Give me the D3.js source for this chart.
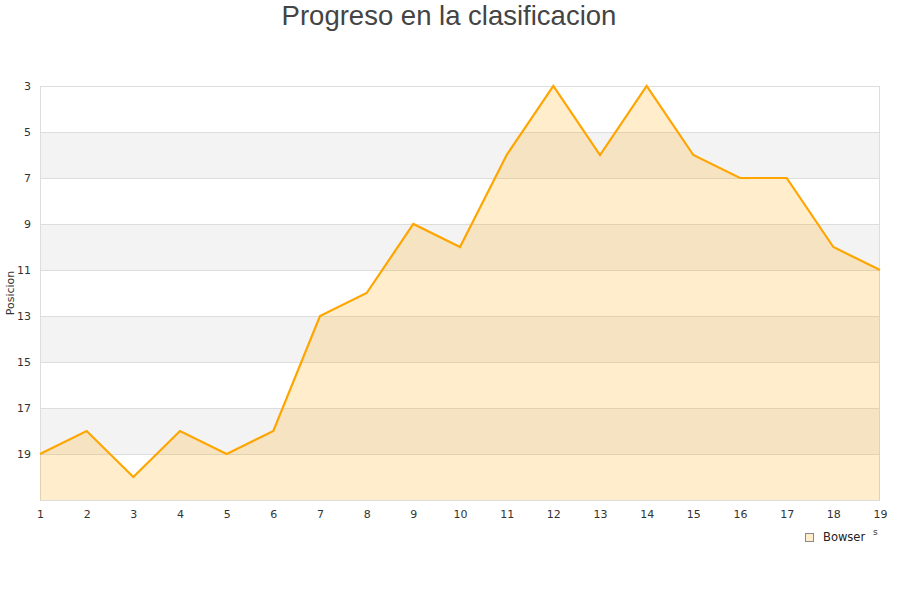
<!DOCTYPE html>
<html><head><meta charset="utf-8">
<script src="https://cdn.jsdelivr.net/npm/d3@7"></script>
<style>body{margin:0;background:#fff;font-family:"DejaVu Sans",sans-serif;}</style>
</head><body>
<svg id="c" width="900" height="600"></svg>
<script>
const jornadas = [1,2,3,4,5,6,7,8,9,10,11,12,13,14,15,16,17,18,19];
const posiciones = [19,18,20,18,19,18,13,12,9,10,6,3,6,3,6,7,7,10,11];
const yTicks = [3,5,7,9,11,13,15,17,19];
const seriesName = "Bowser";
const title = "Progreso en la clasificacion";

const svg = d3.select("#c");
const m = {l:40, r:880, t:86, b:500};
const x = d3.scaleLinear().domain([1,19]).range([m.l, m.r]);
const y = d3.scaleLinear().domain([3,21]).range([m.t, m.b]);

// bands
const bands = [[5,7],[9,11],[13,15],[17,19]];
svg.selectAll("rect.band").data(bands).enter().append("rect")
  .attr("x", m.l).attr("width", m.r-m.l)
  .attr("y", d=>y(d[0])).attr("height", d=>y(d[1])-y(d[0]))
  .attr("fill", "#f3f3f3");
// grid
svg.selectAll("line.grid").data(yTicks).enter().append("line")
  .attr("x1", m.l).attr("x2", m.r).attr("y1", d=>y(d)+0.5).attr("y2", d=>y(d)+0.5)
  .attr("stroke", "#dddddd");
svg.append("rect").attr("x", m.l+0.5).attr("y", m.t+0.5).attr("width", m.r-m.l-1).attr("height", m.b-m.t)
  .attr("fill","none").attr("stroke","#dddddd");

const pts = jornadas.map((j,i)=>[j,posiciones[i]]);
svg.append("path").datum(pts)
  .attr("d", d3.area().x(d=>x(d[0])).y0(y(21)).y1(d=>y(d[1])))
  .attr("fill", "rgba(255,165,0,0.2)");
svg.append("path").datum(pts)
  .attr("d", d3.line().x(d=>x(d[0])).y(d=>y(d[1])))
  .attr("fill", "none").attr("stroke", "#ffa500").attr("stroke-width", 2.2).attr("stroke-linejoin","miter");

// axes
const ya = svg.append("g").attr("transform", `translate(${m.l-9},0)`)
  .call(d3.axisLeft(y).tickValues(yTicks).tickSize(0).tickPadding(0));
ya.select(".domain").remove();
ya.selectAll("text").attr("font-size", 11).attr("fill", "#333").attr("font-family","DejaVu Sans");

const xa = svg.append("g").attr("transform", `translate(0,${m.b+10})`)
  .call(d3.axisBottom(x).tickValues(jornadas).tickFormat(d3.format("d")).tickSize(0).tickPadding(0));
xa.select(".domain").remove();
xa.selectAll("text").attr("font-size", 11).attr("fill", "#333").attr("font-family","DejaVu Sans");

svg.append("text").attr("transform","translate(14,293) rotate(-90)")
  .attr("text-anchor","middle").attr("font-size",11).attr("fill","#333").text("Posicion");

svg.append("text").attr("x",449).attr("y",25).attr("text-anchor","middle")
  .attr("font-size",27.5).attr("fill","#444").attr("font-family","Liberation Sans, Arial, sans-serif").text(title);

svg.append("text").attr("x",873).attr("y",535).attr("font-size",9).attr("fill","#333").text("s");

// legend
svg.append("rect").attr("x",805.5).attr("y",533.5).attr("width",8).attr("height",8)
  .attr("fill","#ffeecc").attr("stroke","#888");
svg.append("text").attr("x",823).attr("y",541).attr("font-size",11.5).attr("fill","#222").text(seriesName);
</script>
</body></html>
